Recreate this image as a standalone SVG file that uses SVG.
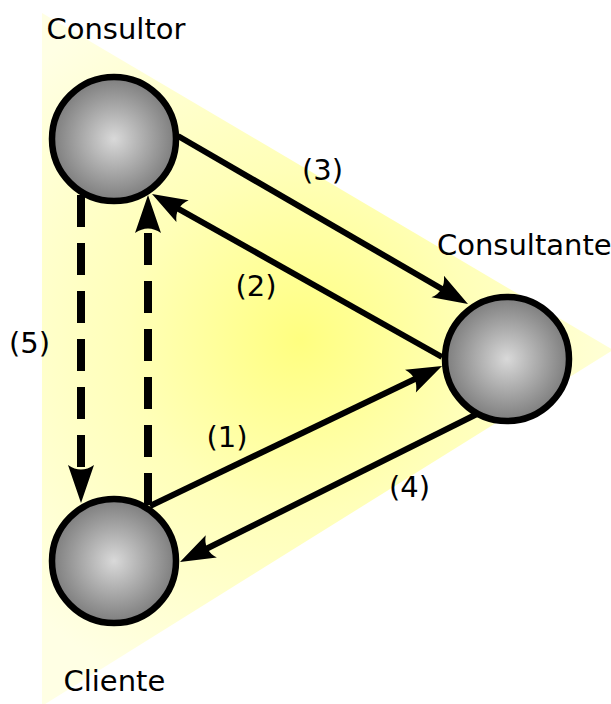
<svg xmlns="http://www.w3.org/2000/svg" width="611" height="704" viewBox="0 0 611 704">
  <style>
    .lbl { font-family: "DejaVu Sans", "Verdana", sans-serif; font-size: 29px; fill: #000; }
    .node { stroke: #000; stroke-width: 6.5; fill: url(#ball); }
    .conn { fill: none; stroke: #000; stroke-width: 6; }
    .dash { fill: none; stroke: #000; stroke-width: 8; stroke-dasharray: 32 16; }
  </style>
  <defs>
    <radialGradient id="glow" gradientUnits="userSpaceOnUse" cx="300" cy="340" r="380">
      <stop offset="0" stop-color="#ffff80"/>
      <stop offset="0.45" stop-color="#ffffb8"/>
      <stop offset="1" stop-color="#ffffe4"/>
    </radialGradient>
    <radialGradient id="ball" cx="0.5" cy="0.5" r="0.5">
      <stop offset="0" stop-color="#d9d9d9"/>
      <stop offset="1" stop-color="#7d7d7d"/>
    </radialGradient>
    <marker id="arr" markerUnits="userSpaceOnUse" orient="auto" refX="0" refY="0" markerWidth="40" markerHeight="30" overflow="visible">
      <path d="M15,0 L-20,-12.5 Q-11,0 -20,12.5 Z" fill="#000"/>
    </marker>
    <marker id="arrD" markerUnits="userSpaceOnUse" orient="auto" refX="0" refY="0" markerWidth="44" markerHeight="30" overflow="visible">
      <path d="M15,0 L-23,-13 Q-14,0 -23,13 Z" fill="#000"/>
    </marker>
  </defs>

  <polygon id="background" points="42,13 613,350 42,706" fill="url(#glow)"/>

  <g id="connectors">
    <line id="c3" class="conn" x1="178" y1="136" x2="455.0" y2="296.5" marker-end="url(#arr)"/>
    <line id="c2" class="conn" x1="442" y1="357" x2="165.1" y2="201.3" marker-end="url(#arr)"/>
    <line id="c1" class="conn" x1="150" y1="506" x2="428.5" y2="372.5" marker-end="url(#arr)"/>
    <line id="c4" class="conn" x1="481" y1="412" x2="193.4" y2="555.3" marker-end="url(#arr)"/>
    <line id="c5a" class="dash" x1="81" y1="195" x2="81" y2="488" marker-end="url(#arrD)"/>
    <line id="c5b" class="dash" x1="148" y1="505" x2="148" y2="210" marker-end="url(#arrD)"/>
  </g>

  <g id="node-consultor">
    <circle class="node" cx="114" cy="139" r="62"/>
    <text class="lbl" x="46.5" y="38.5">Consultor</text>
  </g>
  <g id="node-consultante">
    <circle class="node" cx="507" cy="359" r="62"/>
    <text class="lbl" x="437" y="255">Consultante</text>
  </g>
  <g id="node-cliente">
    <circle class="node" cx="114" cy="561" r="62"/>
    <text class="lbl" x="63.5" y="691">Cliente</text>
  </g>

  <g id="labels">
    <text class="lbl" x="302" y="180">(3)</text>
    <text class="lbl" x="235.5" y="296">(2)</text>
    <text class="lbl" x="206.5" y="447">(1)</text>
    <text class="lbl" x="389" y="497">(4)</text>
    <text class="lbl" x="9" y="353">(5)</text>
  </g>
</svg>
